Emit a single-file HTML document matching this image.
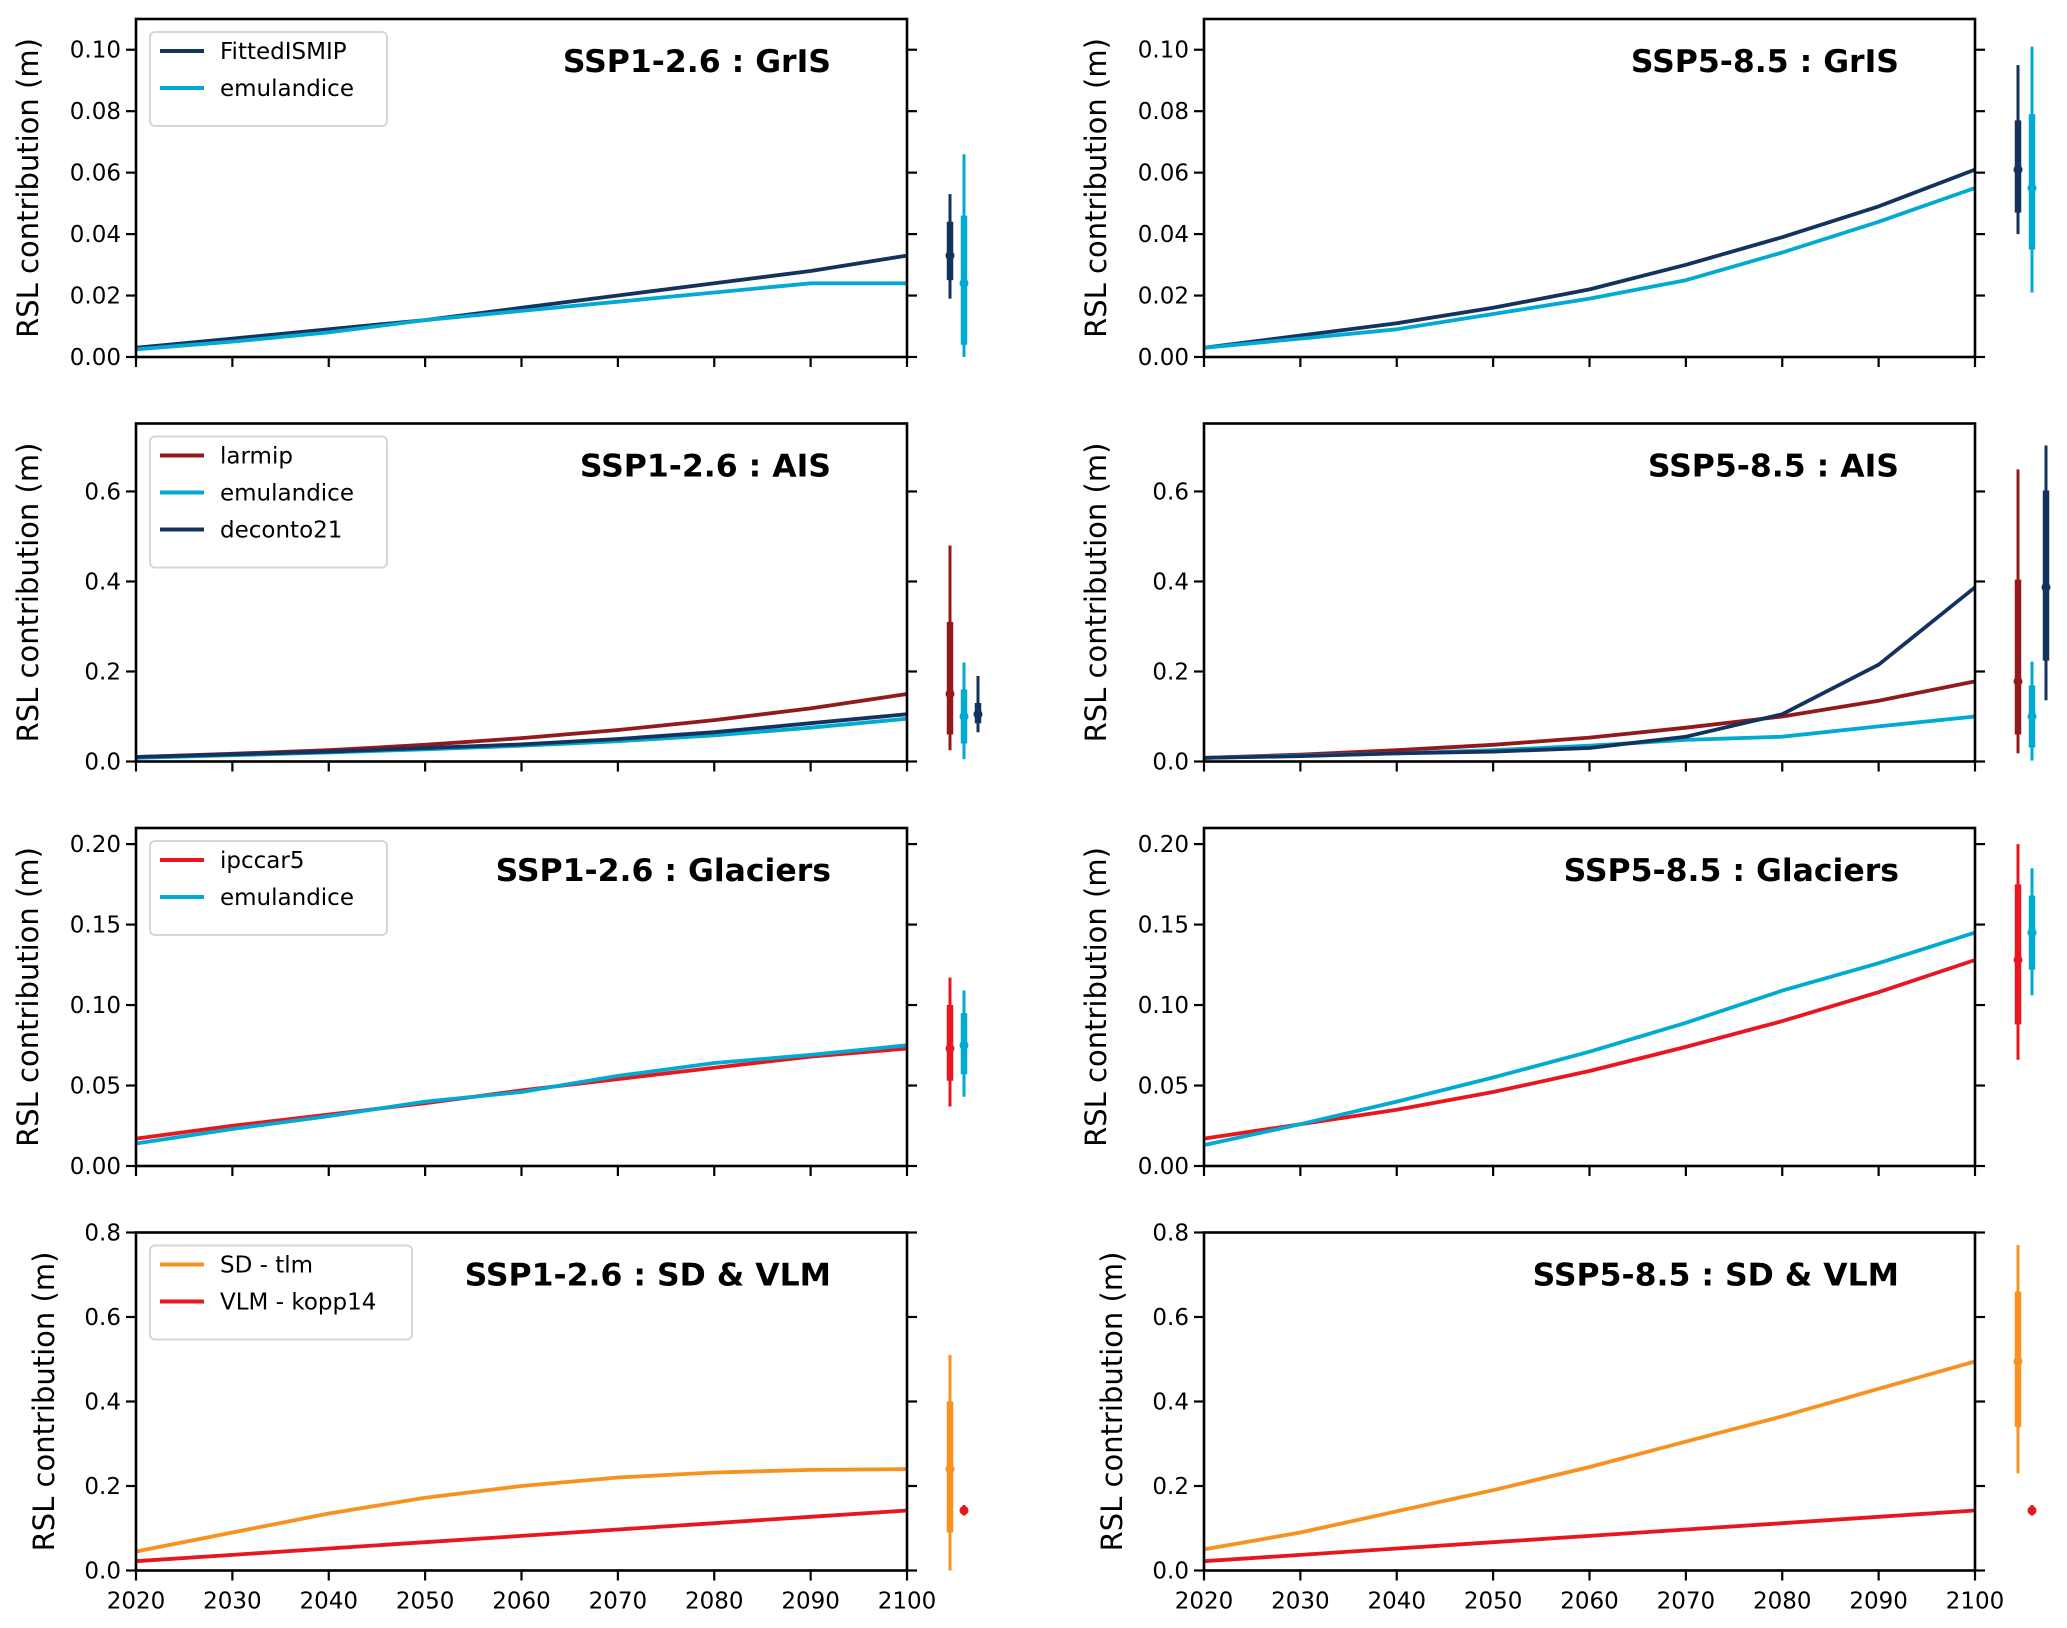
<!DOCTYPE html>
<html><head><meta charset="utf-8">
<style>
html,body{margin:0;padding:0;background:#fff;}
svg{display:block;font-family:"DejaVu Sans","Liberation Sans",sans-serif;}
</style></head>
<body>
<svg id="fig" width="2067" height="1628" viewBox="0 0 2067 1628"></svg>
<script>
const years = [2020,2030,2040,2050,2060,2070,2080,2090,2100];
const xTicks = [2020,2030,2040,2050,2060,2070,2080,2090,2100];
const C_NAVY="#14325e", C_CYAN="#00aad3", C_DRED="#921a1d", C_RED="#e8161e", C_ORANGE="#f7921e";

// GrIS
const grisYTicks = [0,0.02,0.04,0.06,0.08,0.10];
const grisTickLabels = ["0.00","0.02","0.04","0.06","0.08","0.10"];
const gris126Fitted = [0.003,0.006,0.009,0.012,0.016,0.020,0.024,0.028,0.033];
const gris126Emul   = [0.0025,0.005,0.008,0.012,0.015,0.018,0.021,0.024,0.024];
const gris585Fitted = [0.003,0.007,0.011,0.016,0.022,0.030,0.039,0.049,0.061];
const gris585Emul   = [0.003,0.006,0.009,0.014,0.019,0.025,0.034,0.044,0.055];
// bars: [p5,p17,p50,p83,p95]
const gris126FittedBar = [0.019,0.025,0.033,0.044,0.053];
const gris126EmulBar   = [0.000,0.004,0.024,0.046,0.066];
const gris585FittedBar = [0.040,0.047,0.061,0.077,0.095];
const gris585EmulBar   = [0.021,0.035,0.055,0.079,0.101];
// AIS
const aisYTicks = [0,0.2,0.4,0.6];
const aisTickLabels = ["0.0","0.2","0.4","0.6"];
const ais126Larmip = [0.010,0.017,0.025,0.037,0.052,0.070,0.092,0.118,0.150];
const ais126Emul   = [0.008,0.014,0.020,0.027,0.035,0.045,0.058,0.075,0.095];
const ais126Dec    = [0.010,0.016,0.022,0.030,0.038,0.050,0.065,0.085,0.105];
const ais585Larmip = [0.008,0.015,0.025,0.037,0.053,0.075,0.100,0.135,0.178];
const ais585Emul   = [0.008,0.013,0.018,0.025,0.035,0.048,0.055,0.078,0.100];
const ais585Dec    = [0.008,0.012,0.018,0.022,0.030,0.055,0.105,0.215,0.387];
const ais126LarmipBar = [0.025,0.060,0.150,0.310,0.480];
const ais126EmulBar   = [0.005,0.040,0.100,0.160,0.220];
const ais126DecBar    = [0.065,0.085,0.105,0.130,0.190];
const ais585LarmipBar = [0.018,0.060,0.178,0.404,0.649];
const ais585EmulBar   = [0.002,0.031,0.100,0.169,0.222];
const ais585DecBar    = [0.136,0.224,0.387,0.602,0.702];
// Glaciers
const glacYTicks = [0,0.05,0.10,0.15,0.20];
const glacTickLabels = ["0.00","0.05","0.10","0.15","0.20"];
const glac126Ipcc = [0.017,0.025,0.032,0.039,0.047,0.054,0.061,0.068,0.073];
const glac126Emul = [0.014,0.023,0.031,0.040,0.046,0.056,0.064,0.069,0.075];
const glac585Ipcc = [0.017,0.026,0.035,0.046,0.059,0.074,0.090,0.108,0.128];
const glac585Emul = [0.013,0.026,0.040,0.055,0.071,0.089,0.109,0.126,0.145];
const glac126IpccBar = [0.037,0.053,0.073,0.100,0.117];
const glac126EmulBar = [0.043,0.057,0.075,0.095,0.109];
const glac585IpccBar = [0.066,0.088,0.128,0.175,0.200];
const glac585EmulBar = [0.106,0.122,0.145,0.168,0.185];
// SD & VLM
const sdYTicks = [0,0.2,0.4,0.6,0.8];
const sdTickLabels = ["0.0","0.2","0.4","0.6","0.8"];
const sd126 = [0.045,0.090,0.135,0.172,0.200,0.220,0.232,0.238,0.240];
const vlm126 = [0.022,0.037,0.052,0.067,0.082,0.097,0.112,0.127,0.142];
const sd585 = [0.050,0.090,0.140,0.190,0.245,0.305,0.365,0.430,0.495];
const vlm585 = [0.022,0.037,0.052,0.067,0.082,0.097,0.112,0.127,0.142];
const sd126Bar  = [0.000,0.090,0.240,0.400,0.510];
const vlm126Bar = [0.130,0.135,0.142,0.150,0.155];
const sd585Bar  = [0.230,0.340,0.495,0.660,0.770];
const vlm585Bar = [0.130,0.135,0.142,0.150,0.155];

const NS="http://www.w3.org/2000/svg";
const fig=document.getElementById('fig');
function mk(tag,attrs,parent){const e=document.createElementNS(NS,tag);for(const k in attrs)e.setAttribute(k,attrs[k]);(parent||fig).appendChild(e);return e;}

const panels=[
 {col:0,row:0,title:"SSP1-2.6 : GrIS",ymax:0.110,yt:grisYTicks,yl:grisTickLabels,
  series:[["FittedISMIP",gris126Fitted,C_NAVY,gris126FittedBar],["emulandice",gris126Emul,C_CYAN,gris126EmulBar]],legend:true},
 {col:1,row:0,title:"SSP5-8.5 : GrIS",ymax:0.110,yt:grisYTicks,yl:grisTickLabels,
  series:[["FittedISMIP",gris585Fitted,C_NAVY,gris585FittedBar],["emulandice",gris585Emul,C_CYAN,gris585EmulBar]],legend:false},
 {col:0,row:1,title:"SSP1-2.6 : AIS",ymax:0.751,yt:aisYTicks,yl:aisTickLabels,
  series:[["larmip",ais126Larmip,C_DRED,ais126LarmipBar],["emulandice",ais126Emul,C_CYAN,ais126EmulBar],["deconto21",ais126Dec,C_NAVY,ais126DecBar]],legend:true},
 {col:1,row:1,title:"SSP5-8.5 : AIS",ymax:0.751,yt:aisYTicks,yl:aisTickLabels,
  series:[["larmip",ais585Larmip,C_DRED,ais585LarmipBar],["emulandice",ais585Emul,C_CYAN,ais585EmulBar],["deconto21",ais585Dec,C_NAVY,ais585DecBar]],legend:false},
 {col:0,row:2,title:"SSP1-2.6 : Glaciers",ymax:0.210,yt:glacYTicks,yl:glacTickLabels,
  series:[["ipccar5",glac126Ipcc,C_RED,glac126IpccBar],["emulandice",glac126Emul,C_CYAN,glac126EmulBar]],legend:true},
 {col:1,row:2,title:"SSP5-8.5 : Glaciers",ymax:0.210,yt:glacYTicks,yl:glacTickLabels,
  series:[["ipccar5",glac585Ipcc,C_RED,glac585IpccBar],["emulandice",glac585Emul,C_CYAN,glac585EmulBar]],legend:false},
 {col:0,row:3,title:"SSP1-2.6 : SD & VLM",ymax:0.8,yt:sdYTicks,yl:sdTickLabels,
  series:[["SD - tlm",sd126,C_ORANGE,sd126Bar],["VLM - kopp14",vlm126,C_RED,vlm126Bar]],legend:true,bottom:true},
 {col:1,row:3,title:"SSP5-8.5 : SD & VLM",ymax:0.8,yt:sdYTicks,yl:sdTickLabels,
  series:[["SD - tlm",sd585,C_ORANGE,sd585Bar],["VLM - kopp14",vlm585,C_RED,vlm585Bar]],legend:false,bottom:true},
];

panels.forEach((p,pi)=>{
  const L=p.col?1204:136, R=p.col?1975:907;
  const T=19+404.5*p.row, B=T+338;
  const slug=(p.col?'ssp585':'ssp126')+'-'+['gris','ais','glaciers','sd-vlm'][p.row];
  const g=mk('g',{});
  
  
  const xs=v=>L+(v-2020)/80*(R-L);
  const ys=v=>B-v/p.ymax*(B-T);
  p.series.forEach(s=>{
    const d=years.map((y,i)=>(i?'L':'M')+xs(y).toFixed(1)+' '+ys(s[1][i]).toFixed(1)).join(' ');
    const pl=mk('path',{d:d,fill:'none',stroke:s[2],'stroke-width':3.8,'stroke-linejoin':'round'},g);
    
    
  });
  const fr=mk('rect',{x:L,y:T,width:R-L,height:B-T,fill:'none',stroke:'#000','stroke-width':2.6},g);
  
  
  p.yt.forEach((v,i)=>{
    const y=ys(v);
    mk('line',{x1:L-10,x2:L,y1:y,y2:y,stroke:'#000','stroke-width':2.2},g);
    mk('line',{x1:R,x2:R+10,y1:y,y2:y,stroke:'#000','stroke-width':2.2},g);
    const t=mk('text',{x:L-15,y:y+8,'text-anchor':'end','font-size':23},g);
    t.textContent=p.yl[i];
    
    
  });
  xTicks.forEach(v=>{
    const x=xs(v);
    mk('line',{x1:x,x2:x,y1:B,y2:B+10,stroke:'#000','stroke-width':2.2},g);
    if(p.bottom){
      const t=mk('text',{x:x,y:B+38,'text-anchor':'middle','font-size':23},g);
      t.textContent=v;
      
      
    }
  });
  const lx=(p.col?1106:38)+(p.row===3?16:0), ly=(T+B)/2;
  const yl=mk('text',{x:lx,y:ly,'text-anchor':'middle','font-size':29,transform:`rotate(-90 ${lx} ${ly})`},g);
  yl.textContent='RSL contribution (m)';
  
  
  const tt=mk('text',{x:R-76,y:T+53,'text-anchor':'end','font-size':31.5,'font-weight':'bold'},g);
  tt.textContent=p.title;
  
  
  p.series.forEach((s,si)=>{
    const b=s[3], x=R+43+14*si;
    const eb=mk('g',{},g);
    
    
    mk('line',{x1:x,x2:x,y1:ys(b[0]),y2:ys(b[4]),stroke:s[2],'stroke-width':3},eb);
    mk('line',{x1:x,x2:x,y1:ys(b[1]),y2:ys(b[3]),stroke:s[2],'stroke-width':6.5},eb);
    mk('circle',{cx:x,cy:ys(b[2]),r:4.5,fill:s[2]},eb);
  });
  if(p.legend){
    const n=p.series.length;
    const w=(p.row===3)?262:237;
    const lg=mk('g',{},g);
    
    
    mk('rect',{x:L+14,y:T+13,width:w,height:20+37*n,rx:5,fill:'#fff',stroke:'#d6d6d6','stroke-width':2},lg);
    p.series.forEach((s,si)=>{
      const y=T+32+37*si;
      const le=mk('g',{},lg);
      
      
      mk('line',{x1:L+24,x2:L+68,y1:y,y2:y,stroke:s[2],'stroke-width':4},le);
      const t=mk('text',{x:L+84,y:y+8,'font-size':23},le);
      t.textContent=s[0];
    });
  }
});
</script>
</body></html>
